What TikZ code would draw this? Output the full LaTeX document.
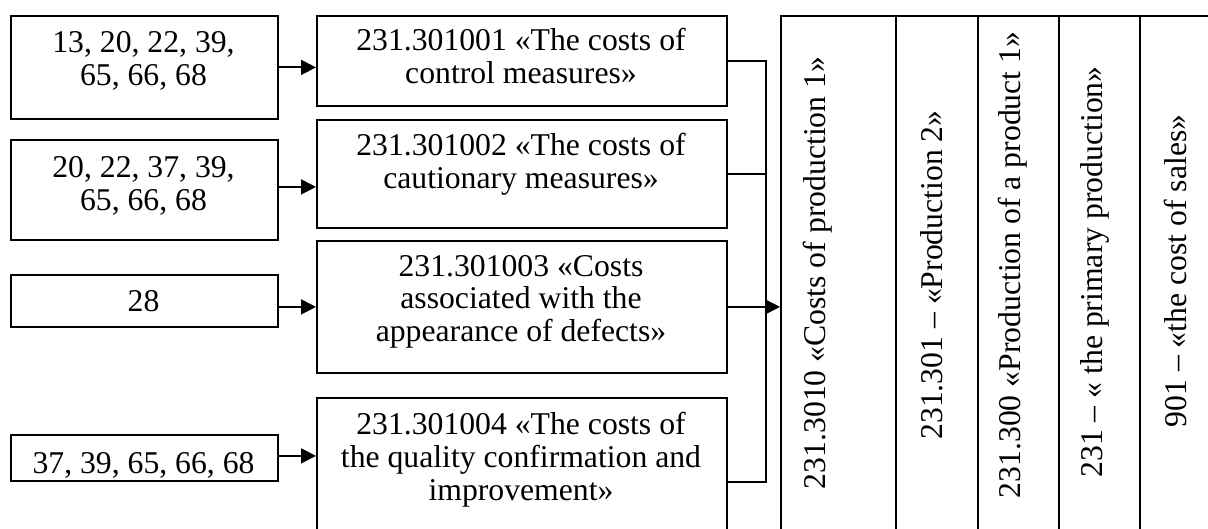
\documentclass[tikz,border=0pt]{standalone}
\usepackage{fontspec}
\setmainfont{Liberation Serif}
\usetikzlibrary{arrows.meta}
\begin{document}
\begin{tikzpicture}[x=1pt,y=-1pt,
  box/.style={draw,line width=1.8pt,inner sep=0pt,anchor=north west},
  txt/.style={inner sep=0pt,align=center,anchor=base,
    font=\fontsize{31.7}{33}\selectfont},
  vtxt/.style={inner sep=0pt,rotate=90,anchor=center,
    font=\fontsize{31.7}{33}\selectfont},
  arr/.style={line width=1.8pt,-{Triangle[length=15pt,width=15pt]}},
  link/.style={line width=1.4pt}]
\useasboundingbox (0,0) rectangle (1208,529);
\clip (0,0) rectangle (1208,529);

% source account boxes (text nodes anchored at the baseline of their last line)
\node[box,minimum width=267,minimum height=103] (l1) at (10,15) {};
\node[box,minimum width=267,minimum height=100] (l2) at (10,139) {};
\node[box,minimum width=267,minimum height=52]  (l3) at (10,274) {};
\node[box,minimum width=267,minimum height=46]  (l4) at (10,434) {};
\node[txt] (tl1) at (143.5,86) {13, 20, 22, 39,\\65, 66, 68};
\node[txt] (tl2) at (143.5,211) {20, 22, 37, 39,\\65, 66, 68};
\node[txt] (tl3) at (143.5,312) {28};
\node[txt] (tl4) at (143.5,473) {37, 39, 65, 66, 68};

% cost sub-accounts
\node[box,minimum width=410,minimum height=90]  (m1) at (316,15) {};
\node[box,minimum width=410,minimum height=108] (m2) at (316,119) {};
\node[box,minimum width=410,minimum height=132] (m3) at (316,240) {};
\node[box,minimum width=410,minimum height=168] (m4) at (316,397) {};
\node[txt] (tm1) at (521,84) {231.301001 «The costs of\\control measures»};
\node[txt] (tm2) at (521,189) {231.301002 «The costs of\\cautionary measures»};
\node[txt] (tm3) at (521,342) {231.301003 «Costs\\associated with the\\appearance of defects»};
\node[txt] (tm4) at (521,500) {231.301004 «The costs of\\the quality confirmation and\\improvement»};

% account hierarchy columns
\node[box,minimum width=115,minimum height=560] (r1) at (780,15) {};
\node[box,minimum width=82,minimum height=560]  (r2) at (895,15) {};
\node[box,minimum width=81,minimum height=560]  (r3) at (977,15) {};
\node[box,minimum width=81,minimum height=560]  (r4) at (1058,15) {};
\node[box,minimum width=81,minimum height=560]  (r5) at (1139,15) {};
\node[vtxt] (tr1) at (818,273) {231.3010 «Costs of production 1»};
\node[vtxt] (tr2) at (932,275) {231.301 – «Production 2»};
\node[vtxt] (tr3) at (1013,265) {231.300 «Production of a product 1»};
\node[vtxt] (tr4) at (1095,272) {231 – « the primary production»};
\node[vtxt] (tr5) at (1175,271) {901 – «the cost of sales»};

% inputs
\draw[arr] (l1.east) -- (l1.east -| m1.west);
\draw[arr] ([yshift=3pt]l2.east) -- ([yshift=3pt]l2.east -| m2.west);
\draw[arr] (m3.west -| l3.east) -- (m3.west);
\draw[arr] ([yshift=2pt]l4.east) -- ([yshift=2pt]l4.east -| m4.west);

% collecting bracket
\draw[link] (m1.east) -- ++(38,0) |- (m4.east);
\draw[link] (m2.east) -- ++(38,0);
\draw[arr,line width=1.4pt] (m3.east) -- (m3.east -| r1.west);
\end{tikzpicture}
\end{document}
